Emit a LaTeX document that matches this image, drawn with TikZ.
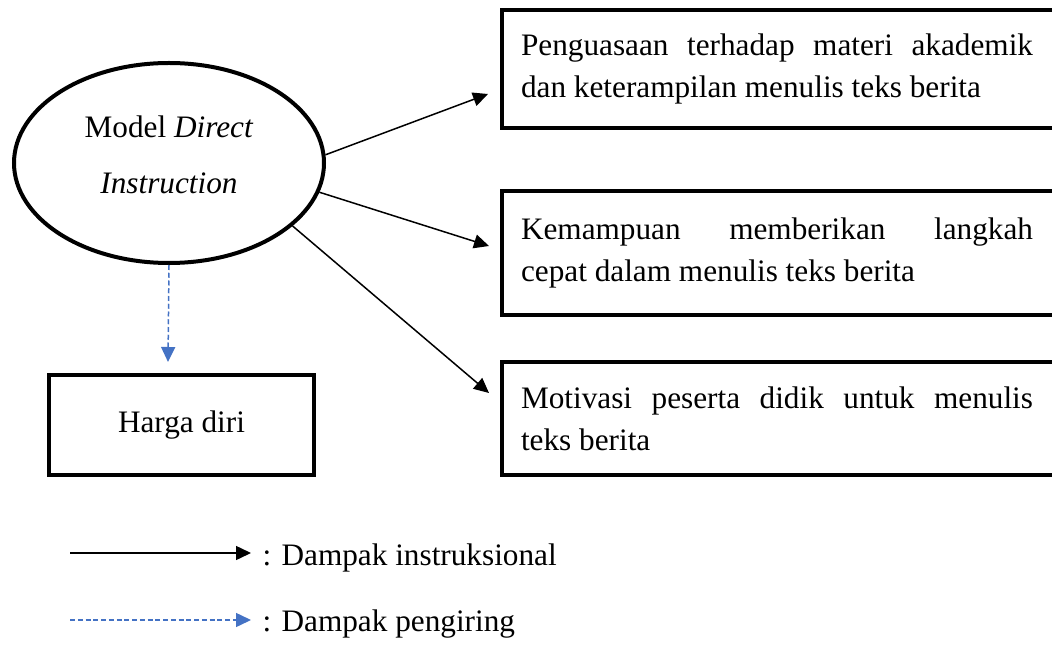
\documentclass[tikz,border=0pt]{standalone}
\usepackage{fontspec}
\setmainfont{Liberation Serif}
\usetikzlibrary{shapes.geometric,arrows.meta}
\definecolor{wordblue}{RGB}{68,114,196}
\tolerance=10000
\hbadness=10000

\begin{document}
\begin{tikzpicture}[x=0.4pt,y=-0.4pt,
    font=\fontsize{12.5}{16.8}\selectfont,
    kotak/.style={draw,line width=1.6pt,inner xsep=7.6pt,inner ysep=0pt},
    instr/.style={-{Triangle[length=6pt,width=5.6pt]},line width=0.6pt},
    iring/.style={-{Triangle[length=6pt,width=5.6pt]},line width=0.6pt,wordblue,dash pattern=on 2pt off 1.1pt}]
            \useasboundingbox (0,0) rectangle (1052,645);
            \node[draw,ellipse,line width=1.6pt,minimum width=124pt,minimum height=80pt,inner sep=0pt,
                  align=center,font=\fontsize{12.5}{22.4}\selectfont,text depth=6.8pt] (E) at (169,163) {Model \textit{Direct}\\\textit{Instruction}};
            \node[kotak,anchor=west,minimum height=47pt] (A) at (500,69) {\parbox{204.8pt}{Penguasaan terhadap materi akademik\linebreak dan keterampilan menulis teks berita}\hspace*{12pt}};
            \node[kotak,anchor=west,minimum height=49.2pt] (B) at (500,253) {\parbox{204.8pt}{Kemampuan memberikan langkah\linebreak cepat dalam menulis teks berita}\hspace*{12pt}};
            \node[kotak,anchor=west,minimum height=45.2pt] (C) at (500,418.5) {\parbox{204.8pt}{Motivasi peserta didik untuk menulis\linebreak teks berita}\hspace*{12pt}};
            \node[kotak,minimum width=105.6pt,minimum height=39.8pt] (H) at (181.5,424.75) {Harga diri};
            \coordinate (t1) at (488,94);
            \coordinate (t2) at (489,246);
            \coordinate (t3) at (489,393);
            \coordinate (t4) at (168,362);
            \draw [instr] (E.3) -- (t1);
            \draw [instr] (E.-11) -- (t2);
            \draw [instr] (E.-27) -- (t3);
            \draw [iring] (E.south) -- (t4);
            % keterangan
            \coordinate (l1) at (70,553);
            \coordinate (l2) at (251,553);
            \coordinate (l3) at (70,620);
            \coordinate (l4) at (251,620);
            \draw [instr] (l1) -- (l2);
            \draw [iring] (l3) -- (l4);
            \node[anchor=base west,inner sep=0pt] (K1) at (262,565) {: Dampak instruksional};
            \node[anchor=base west,inner sep=0pt] (K2) at (262,631) {: Dampak pengiring};
        \end{tikzpicture}
\end{document}
